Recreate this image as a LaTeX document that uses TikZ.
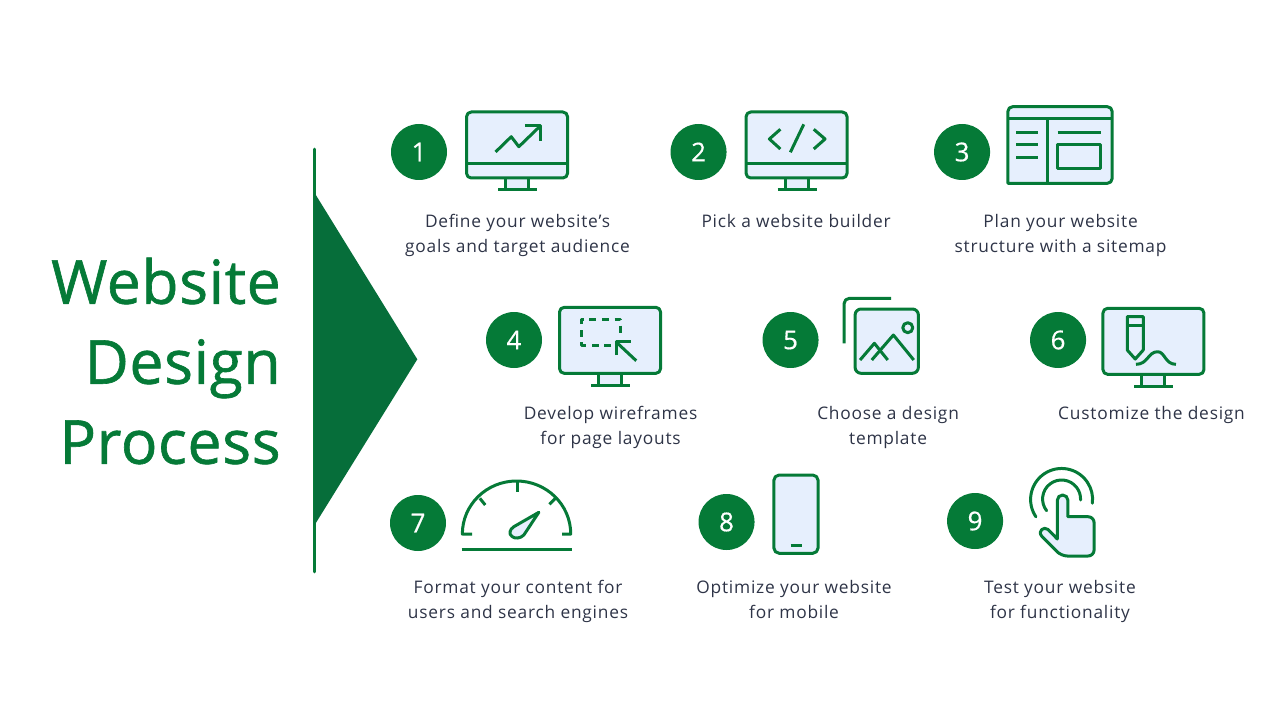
\documentclass[tikz,border=0pt]{standalone}
\usepackage{fontspec}
\setmainfont{Open Sans}
\newfontfamily\captionfont[LetterSpace=4.5]{Open Sans}
\newfontfamily\headfont[FakeBold=1,LetterSpace=1]{Open Sans}
\newfontfamily\numfont[FakeBold=0.5]{Open Sans}
\usepackage{xcolor}
\usetikzlibrary{arrows.meta, positioning}

\definecolor{leafgreen}{HTML}{057A37}
\definecolor{arrowgreen}{HTML}{066E3A}
\definecolor{screenblue}{HTML}{E6EFFD}
\definecolor{captiongray}{HTML}{2E3447}

\tikzset{
  iconline/.style={draw=leafgreen, line width=2.25pt, line join=round},
  iconfill/.style={iconline, fill=screenblue},
  monitorframe/.pic={
    \draw[iconfill] (-12,26) rectangle (11,38);
    \draw[iconline] (-19.5,38) -- (19.5,38);
    \draw[iconfill, rounded corners=3.5pt] (-51,-40) rectangle (50,26);
  },
  chartmonitor/.pic={
    \pic {monitorframe};
    \draw[iconline] (-51,12) -- (50,12);
    \draw[iconline] (-22,0) -- (-6.3,-15.3) -- (1.3,-5.3) -- (23,-26.3);
    \draw[iconline] (7.3,-26.3) -- (23,-26.3) -- (23,-11.3);
  },
  codemonitor/.pic={
    \pic {monitorframe};
    \draw[iconline] (-51,12) -- (50,12);
    \draw[iconline] (-16.7,-22.7) -- (-27.7,-13) -- (-16.7,-3);
    \draw[iconline] (6.7,-27.7) -- (-6.7,0.3);
    \draw[iconline] (16.7,-22.7) -- (28,-13) -- (16.7,-3);
  },
  sitemap/.pic={
    \draw[iconfill, rounded corners=3.5pt] (-52.7,31.3) -- (-52.7,-45.3) -- (51.5,-45.3) -- (51.5,31.3) [sharp corners] -- cycle;
    \draw[iconline] (-52.7,-33.7) -- (51.5,-33.7);
    \draw[iconline] (-13,-33.7) -- (-13,31.3);
    \draw[iconline] (-44.3,-19.7) -- (-22.3,-19.7);
    \draw[iconline] (-44.3,-7) -- (-22.3,-7);
    \draw[iconline] (-44.3,5.3) -- (-22.3,5.3);
    \draw[iconline] (-3,-19.7) -- (40.7,-19.7);
    \draw[iconline] (-3,-7) rectangle (40,17);
  },
  wiremonitor/.pic={
    \pic {monitorframe};
    \draw[iconline, dash pattern=on 5.25pt off 4.25pt] (0.7,-2.3) -- (-29,-2.3) -- (-29,-28.3) -- (10,-28.3) -- (10,-11.6);
    \draw[iconline] (6,-5) -- (25.7,13.4);
    \draw[iconline] (6,7.7) -- (6,-5.6) -- (20.7,-5.6);
  },
  templatepic/.pic={
    \draw[iconline, rounded corners=4pt] (-38,3.3) -- (-38,-41.7) -- (9,-41.7);
    \draw[iconfill, rounded corners=4.5pt] (-27,-31) rectangle (36.3,33.3);
    \draw[iconline] (-22,20) -- (-7.7,3.3) -- (5.7,20);
    \draw[iconline] (-10.3,20) -- (11.3,-5) -- (31.7,20);
    \draw[iconline] (25.7,-12.3) circle[radius=5];
  },
  penmonitor/.pic={
    \pic {monitorframe};
    \draw[iconline] (-26.7,-31.6) -- (-10.7,-31.6) -- (-10.7,1.7) -- (-18.7,10.7) -- (-26.7,1.7) -- cycle;
    \draw[iconline] (-26.7,-23.3) -- (-10.7,-23.3);
    \draw[iconline] (-18,16) .. controls (-6,16) and (-6,3.4) .. (3.7,3.4) .. controls (11,3.4) and (11,16) .. (22,16);
  },
  gaugepic/.pic={
    \draw[iconline] (-45,11) -- (-54.7,11) arc[start angle=180, end angle=360, x radius=54.2, y radius=53] -- (45,11);
    \draw[iconline] (0,-42) -- (0,-31.3);
    \draw[iconline] (-37.2,-24.7) -- (-31.8,-18);
    \draw[iconline] (38.5,-24.7) -- (32.5,-18.7);
    \draw[iconline] (-55.5,26.3) -- (55,26.3);
    \draw[iconfill] (21.8,-10.7) -- (-3.2,3.7) .. controls (-7.5,6.5) and (-8.5,11) .. (-5,13.5) .. controls (-2,16) and (3.5,15.5) .. (6.8,12) -- cycle;
  },
  phonepic/.pic={
    \draw[iconfill, rounded corners=4pt] (-22.7,-47) rectangle (21.5,31.3);
    \draw[iconline] (-6,23) -- (5.7,23);
  },
  touchpic/.pic={
    \draw[iconline, line cap=round] (-26.7,-4.2) arc[start angle=146, end angle=367, radius=31];
    \draw[iconline, line cap=round] (-16,-10.3) arc[start angle=142, end angle=363, radius=19];
    \draw[iconfill] (-5.3,18) -- (-5.3,-20.7) arc[start angle=180, end angle=360, radius=5.3] -- (5.3,-4.3) [rounded corners=4.5pt] -- (31.5,-4.3) -- (31.5,35) -- (-1.3,35) [sharp corners] -- (-21,15) .. controls (-25,10) and (-19,5) .. (-14.5,8.5) -- cycle;
  }
}

\begin{document}
\begin{tikzpicture}[
  x=0.75pt, y=-0.75pt,
  numdot/.style={circle, fill=leafgreen, text=white, minimum size=42pt, inner sep=0pt, font=\numfont\fontsize{19.5}{20}\selectfont},
  iconbox/.style={inner sep=0pt, minimum height=60pt},
  caption/.style={align=center, inner sep=0pt, text=captiongray, font=\captionfont\fontsize{13}{18.75}\selectfont},
  headline/.style={align=right, inner sep=0pt, text=leafgreen, font=\headfont\fontsize{45.5}{60}\selectfont}
]
\useasboundingbox (0,0) rectangle (1280,720);

% title and arrow
\node[headline, anchor=east] (title) at (281,361) {Website\\Design\\Process};
\coordinate (spinetop) at (314.3,149);
\coordinate (spinebottom) at (314.3,572);
\coordinate (arrowtop) at (314.3,192.5);
\coordinate (arrowtip) at (417.3,359.3);
\coordinate (arrowbottom) at (314.3,525.5);
\draw[leafgreen, line width=1.9pt, line cap=round] (spinetop) -- (spinebottom);
\fill[arrowgreen] (arrowtop) -- (arrowtip) -- (arrowbottom) -- cycle;

% first row
\node[numdot] (num1) at (419,152) {1};
\node[numdot, right=167.25pt of num1] (num2) {2};
\node[numdot, right=155.25pt of num2] (num3) {3};
\node[iconbox, minimum width=76.5pt, right=14.25pt of num1] (icon1) {};
\node[iconbox, minimum width=76.5pt, right=14.25pt of num2] (icon2) {};
\node[iconbox, minimum width=79.5pt, right=12.75pt of num3] (icon3) {};
\pic at (icon1) {chartmonitor};
\pic at (icon2) {codemonitor};
\pic at (icon3) {sitemap};
\node[caption, below=16.5pt of icon1] (cap1) {Define your website’s\\goals and target audience};
\node[caption, below=16.5pt of icon2, xshift=-0.75pt] (cap2) {Pick a website builder};
\node[caption, below=16.5pt of icon3] (cap3) {Plan your website\\structure with a sitemap};

% second row
\node[numdot] (num4) at (514,340) {4};
\node[numdot, right=165pt of num4] (num5) {5};
\node[numdot, right=158.25pt of num5] (num6) {6};
\node[iconbox, minimum width=76.5pt, right=12.75pt of num4, yshift=-5.5pt] (icon4) {};
\node[iconbox, minimum width=57pt, right=18.75pt of num5] (icon5) {};
\node[iconbox, minimum width=76.5pt, right=12.25pt of num6, yshift=-6.25pt] (icon6) {};
\pic at (icon4) {wiremonitor};
\pic at (icon5) {templatepic};
\pic at (icon6) {penmonitor};
\node[caption, below=14pt of icon4] (cap4) {Develop wireframes\\for page layouts};
\node[caption, below=19.5pt of icon5, xshift=4.5pt] (cap5) {Choose a design\\template};
\node[caption, below=13.25pt of icon6, xshift=-1.8pt] (cap6) {Customize the design};

% third row
\node[numdot] (num7) at (418,523) {7};
\node[numdot, right=189pt of num7, yshift=0.75pt] (num8) {8};
\node[numdot, right=144pt of num8, yshift=0.75pt] (num9) {9};
\node[iconbox, minimum width=83.25pt, right=11.25pt of num7] (icon7) {};
\node[iconbox, minimum width=33.75pt, right=14.25pt of num8] (icon8) {};
\node[iconbox, minimum width=48pt, right=20.25pt of num9] (icon9) {};
\pic at (icon7) {gaugepic};
\pic at (icon8) {phonepic};
\pic at (icon9) {touchpic};
\node[caption, below=12.75pt of icon7, xshift=0.75pt] (cap7) {Format your content for\\users and search engines};
\node[caption, below=13.5pt of icon8, xshift=-1.9pt] (cap8) {Optimize your website\\for mobile};
\node[caption, below=14.25pt of icon9, xshift=-2pt] (cap9) {Test your website\\for functionality};
\end{tikzpicture}
\end{document}
